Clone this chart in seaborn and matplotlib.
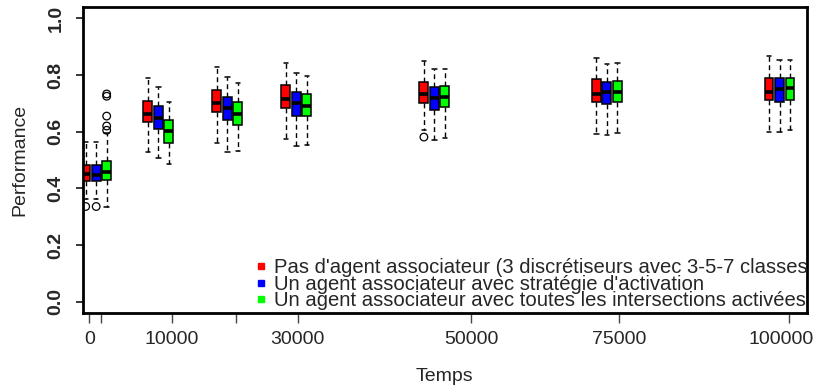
import numpy as np
import pandas as pd
import matplotlib
matplotlib.use("Agg")
import matplotlib.pyplot as plt
from matplotlib.lines import Line2D
import seaborn as sns

# Time steps and the three strategies
times = [1000, 10000, 20000, 30000, 50000, 75000, 100000]
methods = ["Pas d'agent associateur (3 discrétiseurs avec 3-5-7 classes",
           "Un agent associateur avec stratégie d'activation",
           "Un agent associateur avec toutes les intersections activées"]
colors = ["#ff0000", "#0000ff", "#00ff00"]

# five-number summaries: low whisker, Q1, median, Q3, high whisker
sans_associateur = [[0.364, 0.426, 0.449, 0.484, 0.563],
                    [0.530, 0.633, 0.663, 0.710, 0.791],
                    [0.559, 0.669, 0.701, 0.748, 0.829],
                    [0.573, 0.685, 0.717, 0.764, 0.844],
                    [0.607, 0.701, 0.732, 0.777, 0.850],
                    [0.593, 0.706, 0.733, 0.786, 0.861],
                    [0.599, 0.712, 0.739, 0.788, 0.867]]
strategie_activation = [[0.364, 0.426, 0.447, 0.484, 0.563],
                        [0.506, 0.609, 0.647, 0.692, 0.759],
                        [0.529, 0.641, 0.683, 0.724, 0.793],
                        [0.548, 0.657, 0.701, 0.739, 0.806],
                        [0.572, 0.677, 0.720, 0.757, 0.821],
                        [0.589, 0.697, 0.739, 0.777, 0.839],
                        [0.599, 0.706, 0.751, 0.788, 0.853]]
toutes_intersections = [[0.336, 0.429, 0.456, 0.498, 0.595],
                        [0.485, 0.560, 0.604, 0.641, 0.706],
                        [0.531, 0.623, 0.662, 0.704, 0.770],
                        [0.553, 0.654, 0.691, 0.732, 0.798],
                        [0.578, 0.687, 0.723, 0.761, 0.821],
                        [0.594, 0.703, 0.740, 0.779, 0.841],
                        [0.605, 0.712, 0.753, 0.788, 0.853]]

# outliers: (time, strategy index, value)
outliers = [(1000, 0, 0.336), (1000, 1, 0.336),
            (1000, 2, 0.605), (1000, 2, 0.620), (1000, 2, 0.655),
            (1000, 2, 0.725), (1000, 2, 0.733),
            (50000, 0, 0.581)]

# axis ticks as drawn in the original (labels placed separately, last one nudged in)
tick_pos = [0, 1750, 12000, 21250, 30200, 55300, 76700, 101350]
label_pos = [0, 12000, 30200, 55300, 76700, 100300]
label_txt = ["0", "10000", "30000", "50000", "75000", "100000"]

rows = []
for m, series in zip(methods, [sans_associateur, strategie_activation, toutes_intersections]):
    for t, vals in zip(times, series):
        for v in vals:
            rows.append({"Temps": t, "Methode": m, "Performance": v})
df = pd.DataFrame(rows)

sns.set_style("ticks")
plt.rcParams["font.family"] = ["Liberation Sans", "DejaVu Sans"]

fig = plt.figure(figsize=(8.15, 3.87), dpi=100)
ax = fig.add_axes([0.1015, 0.191, 0.8885, 0.791])

box_width = 0.507
sns.boxplot(data=df, x="Temps", y="Performance", hue="Methode", hue_order=methods,
            palette=colors, saturation=1, native_scale=True, width=box_width, gap=0.15,
            whis=(0, 100), linecolor="black", linewidth=1.1, legend=False, ax=ax,
            medianprops={"linewidth": 2.6},
            whiskerprops={"linestyle": (0, (3.5, 2.5)), "linewidth": 1.0})

# outliers drawn as open circles at the dodged positions
slot = box_width * np.min(np.diff(times)) / len(methods)
out_df = pd.DataFrame(outliers, columns=["Temps", "k", "Performance"])
out_df["x"] = out_df["Temps"] + (out_df["k"] - 1) * slot
sns.scatterplot(data=out_df, x="x", y="Performance", marker="o", s=30,
                facecolor="none", edgecolor="black", linewidth=0.9, ax=ax, legend=False)

ax.set_xlim(-950, 103960)
ax.set_ylim(-0.04, 1.04)
ax.xaxis.remove_overlapping_locs = False
ax.set_xticks(tick_pos)
ax.set_xticklabels([""] * len(tick_pos))
ax.set_xticks(label_pos, minor=True)
ax.set_xticklabels(label_txt, minor=True, fontsize=14)
ax.tick_params(axis="x", which="major", length=7, width=1, color="#444444")
ax.tick_params(axis="x", which="minor", length=0, pad=13)
ax.set_yticks([0.0, 0.2, 0.4, 0.6, 0.8, 1.0])
ax.set_yticklabels(["0.0", "0.2", "0.4", "0.6", "0.8", "1.0"], fontsize=14,
                   fontweight="bold", rotation=90, va="center")
ax.tick_params(axis="y", length=5, width=1.3, pad=8)
for s in ax.spines.values():
    s.set_linewidth(2)
    s.set_color("black")

ax.set_xlabel("Temps", fontsize=14, labelpad=14)
ax.set_ylabel("Performance", fontsize=14, labelpad=14)

handles = [Line2D([], [], marker="s", linestyle="none", markersize=5,
                  markerfacecolor=c, markeredgecolor=c) for c in colors]
ax.legend(handles, methods, loc="lower right", bbox_to_anchor=(1.005, 0.0),
          frameon=False, fontsize=14.6, labelspacing=-0.13, handlelength=0.6,
          handletextpad=0.35, borderpad=0.05, borderaxespad=0.1)

fig.savefig("out.png", dpi=100)
